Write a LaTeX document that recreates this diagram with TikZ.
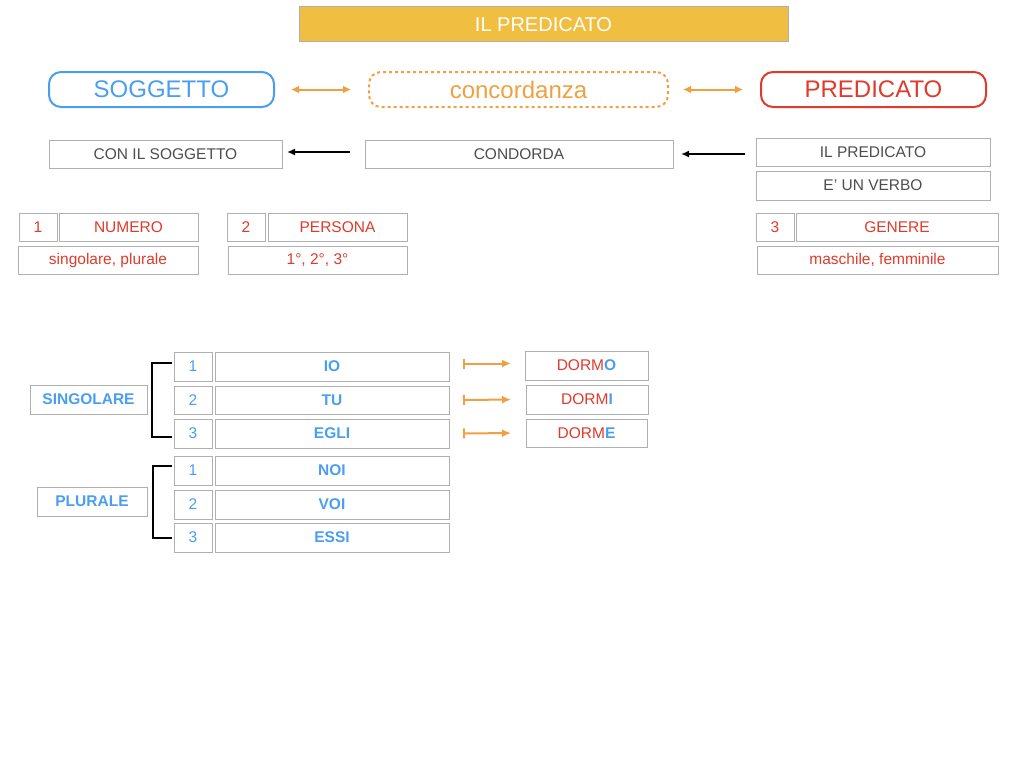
\documentclass[tikz,border=0pt]{standalone}
\usepackage{fontspec}
\setmainfont{Liberation Sans}
\usetikzlibrary{arrows.meta}
\definecolor{titolo}{HTML}{F0BE41}
\definecolor{blu}{HTML}{4A9EF2}
\definecolor{rosso}{HTML}{E03A2A}
\definecolor{arancio}{HTML}{F0A040}
\definecolor{grigio}{HTML}{B0B0B0}
\definecolor{testo}{HTML}{4D4D4D}
\newcommand{\pbox}[7]{\node[#2,minimum width={#5-#3},minimum height={#6-#4}] (#1) at ({(#3+#5)/2},{(#4+#6)/2}) {#7};}
\begin{document}
\begin{tikzpicture}[x=1pt,y=-1pt,
    gbox/.style={draw=grigio,line width=1pt,inner sep=0pt,outer sep=0pt,font=\fontsize{15.5}{18}\selectfont},
    rbox/.style={gbox,text=rosso},
    bbox/.style={gbox,text=blu,font=\fontsize{15.5}{18}\selectfont\bfseries},
    nbox/.style={gbox,text=blu},
    tbox/.style={gbox,text=testo},
    ovale/.style={rounded corners=12pt,line width=2pt,inner sep=0pt,outer sep=0pt,font=\fontsize{24}{28}\selectfont},
    orfreccia/.style={arancio,line width=2pt,{Latex[length=8pt,width=8pt]}-{Latex[length=8pt,width=8pt]}},
    nfreccia/.style={black,line width=1.8pt,-{Latex[length=8pt,width=7pt]}},
    barfreccia/.style={arancio,line width=2pt,{Bar[width=10pt]}-{Latex[length=9pt,width=8pt]}},
    graffa/.style={black,line width=2pt}]
    \useasboundingbox (0,0) rectangle (1024,768);
    \pbox{titolo}{gbox,fill=titolo,text=white,font=\fontsize{20}{24}\selectfont}{299}{7}{788}{42}{IL PREDICATO}
    \pbox{sogg}{ovale,draw=blu,text=blu}{49}{72}{274}{107}{SOGGETTO}
    \pbox{conc}{ovale,draw=arancio,text=arancio,dash pattern=on 3pt off 3pt}{369}{72}{668}{107}{concordanza}
    \pbox{pred}{ovale,draw=rosso,text=rosso}{761}{72}{986}{107}{PREDICATO}
    \draw[orfreccia,shorten <=17pt,shorten >=18pt] (sogg.east) -- (conc.west);
    \draw[orfreccia,shorten <=15pt,shorten >=18pt] (conc.east) -- (pred.west);
    \pbox{conSogg}{tbox}{49}{140}{282}{168}{CON IL SOGGETTO}
    \pbox{condorda}{tbox}{365}{140}{673}{168}{CONDORDA}
    \pbox{ilPred}{tbox}{756}{138}{990}{166}{IL PREDICATO}
    \pbox{verbo}{tbox}{756}{171}{990}{200}{E’ UN VERBO}
    \draw[nfreccia,shorten <=15pt,shorten >=5pt] ([yshift=2pt]condorda.west) -- ([yshift=2pt]conSogg.east);
    \draw[nfreccia,shorten <=11pt,shorten >=8pt] (ilPred.west |- condorda.east) -- (condorda.east);
    \pbox{uno}{rbox}{19}{213}{57}{241}{1}
    \pbox{numero}{rbox}{59}{213}{198}{241}{NUMERO}
    \pbox{singPlur}{rbox}{18}{246}{198}{274}{singolare, plurale}
    \pbox{due}{rbox}{227}{213}{265}{241}{2}
    \pbox{persona}{rbox}{268}{213}{407}{241}{PERSONA}
    \pbox{gradi}{rbox}{228}{246}{407}{274}{1°, 2°, 3°}
    \pbox{tre}{rbox}{756}{213}{794}{241}{3}
    \pbox{genere}{rbox}{796}{213}{998}{241}{GENERE}
    \pbox{maschFemm}{rbox}{757}{246}{998}{274}{maschile, femminile}
    \pbox{singolare}{bbox}{30}{385}{147}{414}{SINGOLARE}
    \pbox{plurale}{bbox}{37}{487}{147}{516}{PLURALE}
    \pbox{sA}{nbox}{174}{352}{212}{381}{1}
    \pbox{sB}{nbox}{174}{386}{212}{414}{2}
    \pbox{sC}{nbox}{174}{419}{212}{448}{3}
    \pbox{pA}{nbox}{174}{456}{212}{485}{1}
    \pbox{pB}{nbox}{174}{490}{212}{519}{2}
    \pbox{pC}{nbox}{174}{523}{212}{552}{3}
    \pbox{io}{bbox}{215}{352}{449}{381}{IO}
    \pbox{tu}{bbox}{215}{386}{449}{414}{TU}
    \pbox{egli}{bbox}{215}{419}{449}{448}{EGLI}
    \pbox{noi}{bbox}{215}{456}{449}{485}{NOI}
    \pbox{voi}{bbox}{215}{490}{449}{519}{VOI}
    \pbox{essi}{bbox}{215}{523}{449}{552}{ESSI}
    \pbox{dormo}{rbox}{525}{351}{648}{380}{DORM\textcolor{blu}{\bfseries O}}
    \pbox{dormi}{rbox}{526}{385}{648}{414}{DORM\textcolor{blu}{\bfseries I}}
    \pbox{dorme}{rbox}{526}{419}{647}{447}{DORM\textcolor{blu}{\bfseries E}}
    \draw[graffa] ([yshift=4pt,xshift=-2pt]sA.west) -- ++(-20,0) |- ([yshift=-3pt,xshift=-2pt]sC.west);
    \draw[graffa] ([yshift=5pt,xshift=-2pt]pA.west) -- ++(-19,0) |- ([xshift=-2pt]pC.west);
    \draw[barfreccia,shorten <=14pt,shorten >=14pt] ([yshift=3pt]io.east) -- ([yshift=3pt]io.east -| dormo.west);
    \draw[barfreccia,shorten <=14pt,shorten >=15pt] (tu.east) -- (dormi.west);
    \draw[barfreccia,shorten <=14pt,shorten >=15pt] (egli.east) -- (dorme.west);
\end{tikzpicture}
\end{document}
